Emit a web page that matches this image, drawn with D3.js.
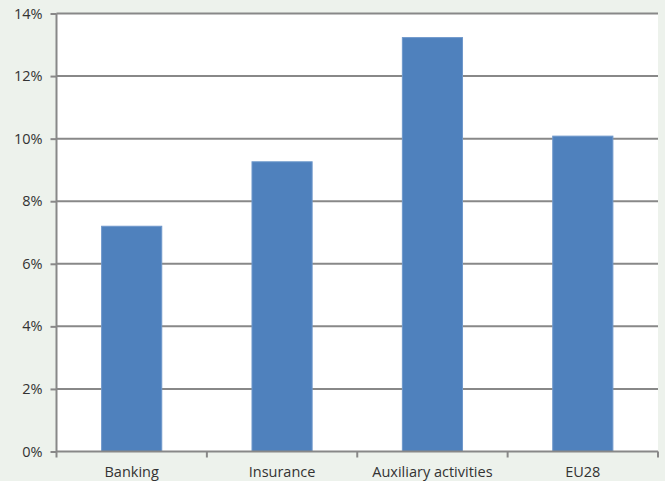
<!DOCTYPE html>
<html>
<head>
<meta charset="utf-8">
<script src="https://cdn.jsdelivr.net/npm/d3@7"></script>
<style>
	html, body { margin: 0; padding: 0; background: #edf2ec; }
	svg { display: block; }
	text { font-family: "Open Sans", "Noto Sans", sans-serif; fill: #333333; }
</style>
</head>
<body>
<div id="chart"></div>
<script>
const categories = ['Banking', 'Insurance', 'Auxiliary activities', 'EU28'];
const values = [7.2, 9.26, 13.23, 10.08];
const yTicks = [0, 2, 4, 6, 8, 10, 12, 14];

const WIDTH = 665;
const HEIGHT = 481;
const margin = { top: 13.5, right: 7, bottom: 29.5, left: 56.5 };
const GRID = '#888888';
const FONT_SIZE = '14.5px';

const svg = d3.select('#chart').append('svg')
	.attr('width', WIDTH)
	.attr('height', HEIGHT);

const plotW = WIDTH - margin.left - margin.right;
const plotH = HEIGHT - margin.top - margin.bottom;

const x = d3.scaleBand().domain(categories).range([0, plotW]).paddingInner(0.6).paddingOuter(0.3);
const xEdges = d3.scaleLinear().domain([0, categories.length]).range([0, plotW]);
const y = d3.scaleLinear().domain([0, 14]).range([plotH, 0]);

const g = svg.append('g').attr('transform', 'translate(' + margin.left + ',' + margin.top + ')');

// white plot area
g.append('rect')
	.attr('x', 0).attr('y', 0)
	.attr('width', plotW).attr('height', plotH)
	.attr('fill', '#ffffff');

// horizontal grid lines
g.append('g').selectAll('line')
	.data(yTicks.filter(t => t > 0))
	.enter().append('line')
		.attr('x1', 0).attr('x2', plotW)
		.attr('y1', d => y(d)).attr('y2', d => y(d))
		.attr('stroke', GRID)
		.attr('stroke-width', 2);

// bars
g.append('g').selectAll('rect')
	.data(values)
	.enter().append('rect')
		.attr('x', (d, i) => x(categories[i]))
		.attr('y', d => y(d))
		.attr('width', x.bandwidth())
		.attr('height', d => plotH - y(d))
		.attr('fill', '#4f81bd')
		.attr('stroke', '#6f98cb')
		.attr('stroke-width', 1);

// y axis
const yAxis = d3.axisLeft(y)
	.tickValues(yTicks)
	.tickSize(6)
	.tickPadding(8)
	.tickFormat(d => d + '%');
const yg = g.append('g').call(yAxis);
yg.select('.domain').remove();
yg.selectAll('.tick line').attr('stroke', GRID).attr('stroke-width', 2);
yg.selectAll('.tick text')
	.attr('font-family', null)
	.style('font-size', FONT_SIZE)
	.style('fill', '#333333');
g.append('line')
	.attr('x1', 0).attr('x2', 0)
	.attr('y1', 0).attr('y2', plotH + 6)
	.attr('stroke', GRID).attr('stroke-width', 2);

// x axis
g.append('line')
	.attr('x1', 0).attr('x2', plotW)
	.attr('y1', plotH).attr('y2', plotH)
	.attr('stroke', GRID).attr('stroke-width', 2);
g.append('g').selectAll('line')
	.data(d3.range(1, categories.length + 1))
	.enter().append('line')
		.attr('x1', d => xEdges(d)).attr('x2', d => xEdges(d))
		.attr('y1', plotH).attr('y2', plotH + 6)
		.attr('stroke', GRID).attr('stroke-width', 2);

g.append('g').selectAll('text')
	.data(categories)
	.enter().append('text')
		.attr('x', d => x(d) + x.bandwidth() / 2)
		.attr('y', plotH + 25)
		.attr('text-anchor', 'middle')
		.style('font-size', FONT_SIZE)
		.text(d => d);
</script>
</body>
</html>
